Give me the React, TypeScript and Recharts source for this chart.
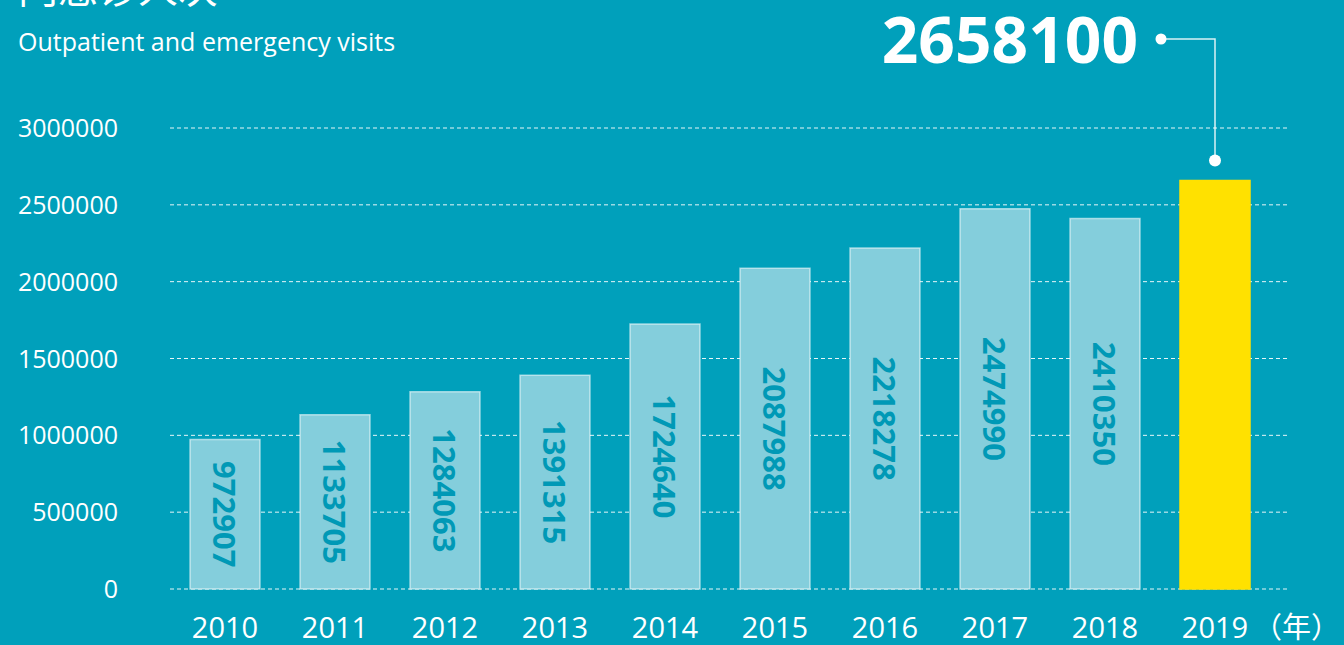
import React from 'react';
import { BarChart, Bar, XAxis, YAxis, CartesianGrid, Cell, LabelList } from 'recharts';

const years = ['2010', '2011', '2012', '2013', '2014', '2015', '2016', '2017', '2018', '2019'];
const visits = [972907, 1133705, 1284063, 1391315, 1724640, 2087988, 2218278, 2474990, 2410350, 2658100];
const yTicks = [0, 500000, 1000000, 1500000, 2000000, 2500000, 3000000];
const titleZh = '门急诊人次';
const titleEn = 'Outpatient and emergency visits';
const yearUnit = '（年）';

const data = years.map((y, i) => ({ year: y, value: visits[i] }));

const BG = '#00A0BB';
const BAR = '#84CEDC';
const HIGHLIGHT = '#FFE100';
const FONT = '"Open Sans", "Noto Sans", "Noto Sans CJK SC", sans-serif';

const XTick = (props: any) => {
  const { x, y, payload } = props;
  const isLast = payload.value === years[years.length - 1];
  return (
    <g>
      <text x={x} y={y + 49} textAnchor="middle" fill="#fff" fontSize={29} fontFamily={FONT}>
        {payload.value}
      </text>
      {isLast && (
        <text x={x + 38} y={y + 49} textAnchor="start" fill="#fff" fontSize={29} fontFamily='"Noto Sans CJK SC", sans-serif'>
          {yearUnit}
        </text>
      )}
    </g>
  );
};

const YTick = (props: any) => {
  const { x, y, payload } = props;
  return (
    <text x={x} y={y} dy={9} textAnchor="end" fill="#fff" fontSize={25} fontFamily={FONT}>
      {payload.value}
    </text>
  );
};

const InnerLabel = (props: any) => {
  const { x, y, width, height, value, index } = props;
  if (index === visits.length - 1) {
    const cx = x + width / 2;
    const dotY = y - 20;
    return (
      <g>
        <polyline points={`1161,39 ${cx},39 ${cx},${dotY}`} fill="none" stroke="rgba(255,255,255,0.85)" strokeWidth={1.5} />
        <circle cx={1161} cy={39} r={5.5} fill="#fff" />
        <circle cx={cx} cy={dotY} r={6} fill="#fff" />
        <text x={1138} y={63} textAnchor="end" fill="#fff" fontSize={64} fontWeight="bold" fontFamily='"Noto Sans", sans-serif'>
          {value}
        </text>
      </g>
    );
  }
  const cx = x + width / 2;
  const cy = y + height / 2;
  return (
    <text
      x={cx}
      y={cy}
      transform={`rotate(90 ${cx} ${cy})`}
      textAnchor="middle"
      dominantBaseline="central"
      fill="#0099B6"
      fontSize={31}
      fontWeight="bold"
      fontFamily='"Noto Sans", sans-serif'
    >
      {value}
    </text>
  );
};

export default function App() {
  return (
    <div style={{ position: 'fixed', left: 0, top: 0, width: 1344, height: 645, background: BG, overflow: 'hidden' }}>
      <div style={{ position: 'absolute', left: 18, top: -38, color: '#fff', fontSize: 40, fontFamily: '"Noto Sans CJK SC", sans-serif', lineHeight: '48px', whiteSpace: 'nowrap' }}>
        {titleZh}
      </div>
      <div style={{ position: 'absolute', left: 18, top: 24, color: '#fff', fontSize: 25, fontFamily: FONT, lineHeight: '34px', whiteSpace: 'nowrap' }}>
        {titleEn}
      </div>
      <div style={{ position: 'absolute', left: 0, top: 0 }}>
        <BarChart width={1344} height={645} data={data} margin={{ top: 128, right: 54, bottom: 0, left: 0 }}>
          <CartesianGrid vertical={false} stroke="#fff" strokeDasharray="4 3" strokeOpacity={0.9} />
          <XAxis
            dataKey="year"
            height={56}
            axisLine={false}
            tickLine={false}
            tickSize={0}
            tickMargin={0}
            padding={{ left: 0, right: 20 }}
            tick={<XTick />}
            interval={0}
          />
          <YAxis
            width={170}
            domain={[0, 3000000]}
            ticks={yTicks}
            axisLine={false}
            tickLine={false}
            tickSize={0}
            tickMargin={52}
            tick={<YTick />}
            interval={0}
          />
          <Bar dataKey="value" barSize={70} isAnimationActive={false} stroke="rgba(255,255,255,0.55)" strokeWidth={1.5}>
            {data.map((d, i) => (
              <Cell key={d.year} fill={i === data.length - 1 ? HIGHLIGHT : BAR} stroke={i === data.length - 1 ? HIGHLIGHT : 'rgba(255,255,255,0.55)'} />
            ))}
            <LabelList dataKey="value" content={<InnerLabel />} />
          </Bar>
        </BarChart>
      </div>
    </div>
  );
}
